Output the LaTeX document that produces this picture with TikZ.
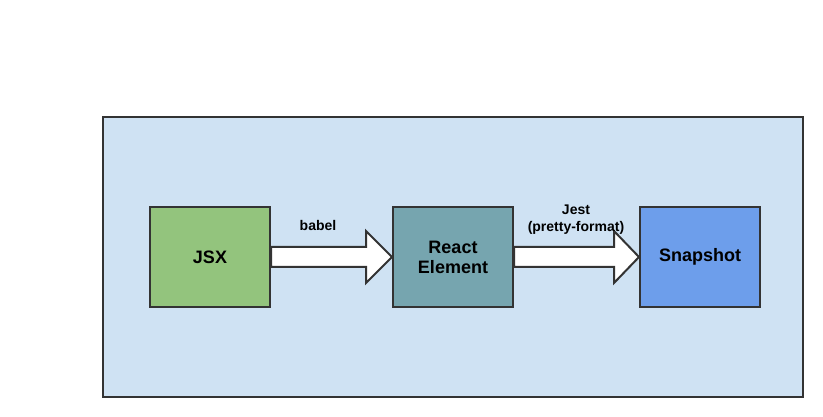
\documentclass[tikz,border=0pt]{standalone}
\usepackage{fontspec}
\setmainfont{Liberation Sans}
\usetikzlibrary{calc}
\definecolor{panelblue}{HTML}{CFE2F3}
\definecolor{jsxgreen}{HTML}{93C47D}
\definecolor{reactteal}{HTML}{76A5AF}
\definecolor{snapblue}{HTML}{6D9EEB}
\definecolor{edgegray}{HTML}{333333}
\tikzset{
  box/.style={draw=edgegray, line width=2pt, minimum width=120pt, minimum height=100pt,
    align=center, font=\fontsize{18}{20}\selectfont\bfseries},
  blockarrow/.style={draw=edgegray, line width=2pt, fill=white, line join=miter},
  steplabel/.style={align=center, inner sep=0pt, font=\fontsize{14}{17}\selectfont\bfseries}
}
\begin{document}
\begin{tikzpicture}[x=1pt, y=-1pt]
	\useasboundingbox (0,0) rectangle (823,417);
	\draw[draw=edgegray, line width=2.5pt, fill=panelblue] (103,117) rectangle (803,397);
	
	\node[box, fill=jsxgreen] (jsx) at (210,257) {JSX};
	\node[box, fill=reactteal] (react) at (453,257) {React\\Element};
	\node[box, fill=snapblue] (snap) at (700,257) {Snapshot};
	
	% block arrows between the boxes
	\draw[blockarrow] ([yshift=10]jsx.east) -- ([xshift=-26,yshift=10]react.west)
		-- ([xshift=-26,yshift=26]react.west) -- (react.west)
		-- ([xshift=-26,yshift=-26]react.west) -- ([xshift=-26,yshift=-10]react.west)
		-- ([yshift=-10]jsx.east) -- cycle;
	\draw[blockarrow] ([yshift=10]react.east) -- ([xshift=-25,yshift=10]snap.west)
		-- ([xshift=-25,yshift=26]snap.west) -- (snap.west)
		-- ([xshift=-25,yshift=-26]snap.west) -- ([xshift=-25,yshift=-10]snap.west)
		-- ([yshift=-10]react.east) -- cycle;
	
	\node[steplabel] (babel) at (318,225) {babel};
	\node[steplabel] (jest) at (576,220) {Jest\\(pretty-format)};
\end{tikzpicture}
\end{document}
